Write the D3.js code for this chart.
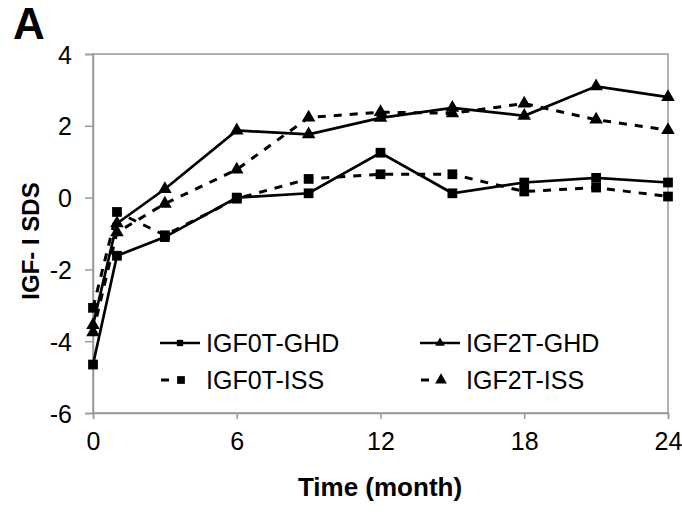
<!DOCTYPE html>
<html>
<head>
<meta charset="utf-8">
<script src="https://cdn.jsdelivr.net/npm/d3@7"></script>
<style>
  body { margin: 0; background: #fff; }
  svg { font-family: "Liberation Sans", Arial, sans-serif; }
</style>
</head>
<body>
<svg width="682" height="512"></svg>
<script>
// data
var months = [0, 1, 3, 6, 9, 12, 15, 18, 21, 24];
var igf0tGHD = [-4.65, -1.62, -1.1, 0.0, 0.12, 1.25, 0.12, 0.42, 0.55, 0.42];
var igf0tISS = [-3.07, -0.4, -1.05, -0.03, 0.52, 0.65, 0.65, 0.17, 0.28, 0.03];
var igf2tGHD = [-3.55, -0.72, 0.24, 1.87, 1.76, 2.22, 2.5, 2.28, 3.1, 2.8];
var igf2tISS = [-3.75, -0.97, -0.17, 0.78, 2.23, 2.38, 2.35, 2.62, 2.17, 1.88];
var seriesNames = ["IGF0T-GHD", "IGF2T-GHD", "IGF0T-ISS", "IGF2T-ISS"];
var xTicks = [0, 6, 12, 18, 24];
var yTicks = [-6, -4, -2, 0, 2, 4];

var series = [
  {name: seriesNames[0], values: igf0tGHD, dashed: false, marker: "square"},
  {name: seriesNames[1], values: igf2tGHD, dashed: false, marker: "triangle"},
  {name: seriesNames[2], values: igf0tISS, dashed: true, marker: "square"},
  {name: seriesNames[3], values: igf2tISS, dashed: true, marker: "triangle"}
];

var svg = d3.select("svg");

var mLeft = 93, mRight = 668, mTop = 54, mBottom = 413;

var x = d3.scaleLinear().domain([0, 24]).range([mLeft, mRight]);
var y = d3.scaleLinear().domain([-6, 4]).range([mBottom, mTop]);

// plot border (excel style)
svg.append("rect")
  .attr("x", mLeft).attr("y", mTop)
  .attr("width", mRight - mLeft).attr("height", mBottom - mTop)
  .attr("fill", "none")
  .attr("stroke", "#999")
  .attr("stroke-width", 1.5);

// plain hyphen for negatives, like the original
var yAxis = svg.append("g")
  .attr("transform", "translate(" + mLeft + ",0)")
  .call(d3.axisLeft(y).tickValues(yTicks).tickSize(8).tickPadding(13).tickFormat(function(d) { return String(d); }));

var xAxis = svg.append("g")
  .attr("transform", "translate(0," + mBottom + ")")
  .call(d3.axisBottom(x).tickValues(xTicks).tickSize(6).tickPadding(13));

[xAxis, yAxis].forEach(function(ax) {
  ax.select(".domain").attr("stroke", "#999").attr("stroke-width", 1.5);
  ax.selectAll(".tick line").attr("stroke", "#999").attr("stroke-width", 1.5);
  ax.selectAll("text")
    .attr("fill", "#000")
    .style("font-size", "25px")
    .style("font-family", "Liberation Sans, Arial, sans-serif");
});
yAxis.selectAll("text").attr("dy", "0.36em");

// lines
var line = d3.line()
  .x(function(d, i) { return x(months[i]); })
  .y(function(d) { return y(d); });

var sym = {
  square: d3.symbol().type(d3.symbolSquare).size(95),
  triangle: d3.symbol().type(d3.symbolTriangle).size(80)
};

series.forEach(function(s) {
  svg.append("path")
    .datum(s.values)
    .attr("d", line)
    .attr("fill", "none")
    .attr("stroke", "#000")
    .attr("stroke-width", s.dashed ? 3 : 2.7)
    .attr("stroke-dasharray", s.dashed ? "8,8" : null);
});

series.forEach(function(s) {
  svg.append("g").selectAll("path")
    .data(s.values)
    .enter().append("path")
    .attr("transform", function(d, i) { return "translate(" + x(months[i]) + "," + y(d) + ")"; })
    .attr("d", sym[s.marker])
    .attr("fill", "#000");
});

// legend
var legendPos = [[160, 343], [420, 343], [160, 380], [420, 380]];
series.forEach(function(s, i) {
  var p = legendPos[i];
  var g = svg.append("g").attr("transform", "translate(" + p[0] + "," + p[1] + ")");
  if (s.dashed) {
    g.append("line").attr("x1", 1).attr("x2", 9).attr("y1", 0).attr("y2", 0)
      .attr("stroke", "#000").attr("stroke-width", 3);
    g.append("path").attr("transform", "translate(21,0)")
      .attr("d", d3.symbol().type(s.marker == "square" ? d3.symbolSquare : d3.symbolTriangle).size(60))
      .attr("fill", "#000");
  } else {
    g.append("line").attr("x1", 0).attr("x2", 40).attr("y1", 0).attr("y2", 0)
      .attr("stroke", "#000").attr("stroke-width", 2.7);
    g.append("path").attr("transform", "translate(20,0)")
      .attr("d", d3.symbol().type(s.marker == "square" ? d3.symbolSquare : d3.symbolTriangle).size(40))
      .attr("fill", "#000");
  }
  g.append("text")
    .attr("x", 46)
    .attr("y", 9)
    .style("font-size", "25px")
    .text(s.name);
});

// titles
svg.append("text")
  .attr("x", 13).attr("y", 39)
  .style("font-size", "44px").style("font-weight", "bold")
  .text("A");

svg.append("text")
  .attr("transform", "translate(39,241) rotate(-90)")
  .attr("text-anchor", "middle")
  .style("font-size", "24px").style("font-weight", "bold")
  .text("IGF- I SDS");

svg.append("text")
  .attr("x", 380).attr("y", 496)
  .attr("text-anchor", "middle")
  .style("font-size", "26px").style("font-weight", "bold")
  .text("Time (month)");
</script>
</body>
</html>
